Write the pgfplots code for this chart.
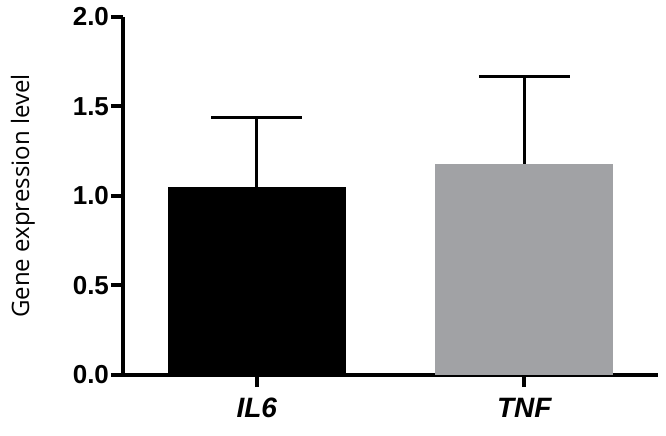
\documentclass[border=0pt]{standalone}
\usepackage{pgfplots}
\pgfplotsset{compat=1.18}
\usepackage{fontspec}
\setmainfont{Liberation Sans}
\newfontfamily\labelfont{Open Sans}
\definecolor{BarGray}{HTML}{A1A2A5}

\begin{document}
\begin{tikzpicture}
  \path[use as bounding box] (-92.25pt,-45pt) rectangle (407.25pt,281.25pt);
  \begin{axis}[
    scale only axis,width=401.25pt,height=268.5pt,
    xmin=-0.5,xmax=1.5,ymin=0,ymax=2,enlargelimits=false,
    axis x line=bottom,axis y line=left,axis line style={-,line width=3pt},
    xtick={0,1},xticklabels={IL6,TNF},
    ytick={0,0.5,1,1.5,2},
    tick align=outside,major tick length=9pt,
    tick style={line width=3pt,black},
    xticklabel style={font=\fontsize{21}{21}\selectfont\bfseries\itshape,yshift=-5pt},
    yticklabel style={font=\fontsize{19.5}{19.5}\selectfont\bfseries,xshift=2pt},
    /pgf/number format/assume math mode=true,
    /pgf/number format/.cd,fixed,fixed zerofill,precision=1,
    /pgfplots/.cd,
    ylabel={\labelfont\fontsize{18}{18}\selectfont Gene expression level},
    ylabel style={at={(axis description cs:0,0.5)},anchor=center,yshift=75pt},
    ybar,bar width=133.5pt,bar shift=0pt,
    clip=false,
  ]
    \addplot[fill=black,draw=none,
      error bars/.cd,y dir=plus,y explicit,
      error bar style={line width=2.25pt,black},
      error mark options={rotate=90,mark size=34pt,line width=2.25pt,black}]
      coordinates {(0,1.05) +- (0,0.39)};
    \addplot[fill=BarGray,draw=none,
      error bars/.cd,y dir=plus,y explicit,
      error bar style={line width=2.25pt,black},
      error mark options={rotate=90,mark size=34pt,line width=2.25pt,black}]
      coordinates {(1,1.18) +- (0,0.49)};
  \end{axis}
\end{tikzpicture}
\end{document}
